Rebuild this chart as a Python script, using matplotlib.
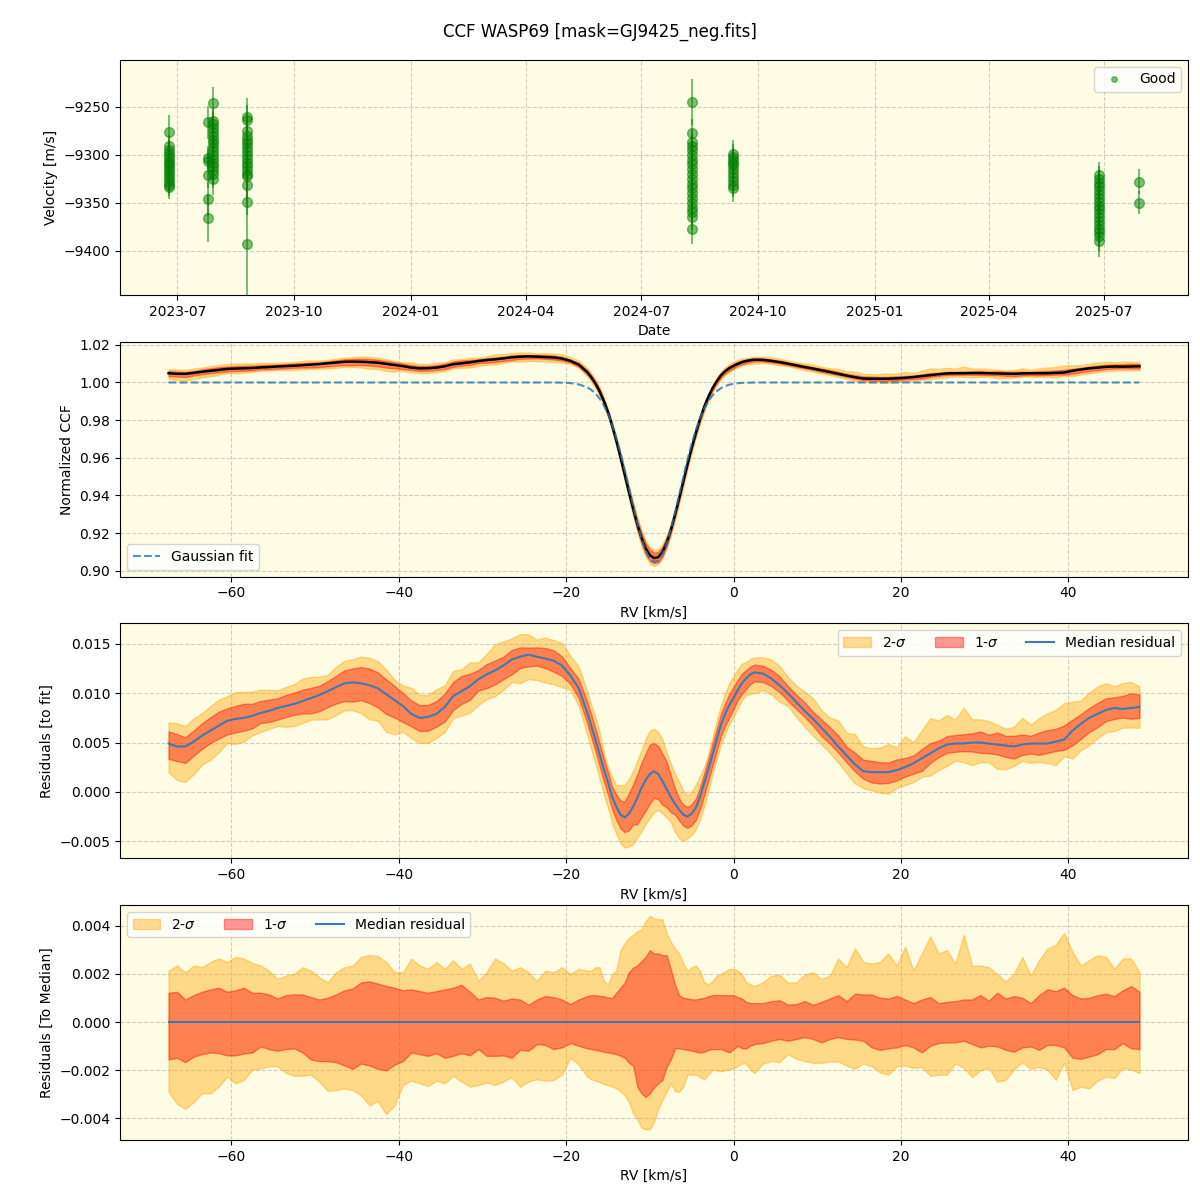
import numpy as np
import pandas as pd
import matplotlib
matplotlib.use("Agg")
import matplotlib.pyplot as plt
import matplotlib.dates as mdates
import matplotlib.patches as mpatches
from matplotlib.lines import Line2D

# --- RV time series (one list per epoch) ---
epoch_dates = ["2023-06-24", "2023-07-25", "2023-07-29", "2023-08-25",
               "2024-08-10", "2024-09-11", "2025-06-27", "2025-07-29"]
epoch_vel = [
    [-9276, -9291, -9295, -9298, -9301, -9304, -9307, -9310, -9313, -9316,
     -9319, -9322, -9325, -9328, -9331, -9334],
    [-9266, -9303, -9306, -9321, -9346, -9366],
    [-9246, -9265, -9268, -9272, -9276, -9280, -9284, -9288, -9292, -9296,
     -9300, -9304, -9308, -9312, -9316, -9320, -9325],
    [-9260, -9264, -9275, -9280, -9284, -9288, -9292, -9296, -9300, -9304,
     -9308, -9312, -9316, -9320, -9322, -9331, -9349, -9393],
    [-9245, -9277, -9287, -9291, -9295, -9300, -9305, -9310, -9315, -9320,
     -9325, -9330, -9335, -9340, -9345, -9350, -9355, -9360, -9365, -9377],
    [-9299, -9302, -9305, -9308, -9311, -9315, -9319, -9323, -9327, -9331, -9335],
    [-9321, -9325, -9329, -9333, -9337, -9341, -9345, -9349, -9353, -9357,
     -9361, -9365, -9369, -9373, -9377, -9381, -9385, -9390],
    [-9328, -9350],
]
epoch_err = [
    [18, 12, 11, 11, 10, 10, 10, 10, 10, 10, 10, 11, 11, 12, 12, 12],
    [17, 12, 12, 14, 18, 25],
    [17, 13, 13, 13, 12, 12, 12, 12, 12, 12, 12, 12, 13, 13, 14, 15, 17],
    [19, 16, 15, 14, 13, 13, 13, 13, 13, 13, 13, 13, 13, 13, 14, 15, 14, 60],
    [24, 14, 13, 12, 12, 12, 12, 12, 12, 12, 12, 12, 12, 12, 12, 12, 12, 12, 13, 16],
    [15, 13, 12, 12, 12, 12, 12, 12, 12, 13, 14],
    [14, 13, 13, 12, 12, 12, 12, 12, 12, 12, 12, 12, 12, 13, 13, 14, 15, 17],
    [13, 12],
]

# --- CCF profile: RV grid (km/s), finer through the line core ---
rv = np.concatenate([np.arange(-67.5, -18.0, 1.0),
                     np.arange(-17.5, 2.75, 0.5),
                     np.arange(3.5, 49.0, 1.0)])

gauss_fit = [1.0] * 47 + [0.9999, 0.9997, 0.9990] + [
    # -17.5 .. 2.5 (step 0.5)
    0.9975, 0.9961, 0.9942, 0.9915, 0.9879, 0.9833, 0.9775, 0.9705, 0.9625, 0.9535,
    0.9440, 0.9344, 0.9252, 0.9172, 0.9107, 0.9064, 0.9046, 0.9053, 0.9087, 0.9144,
    0.9219, 0.9307, 0.9401, 0.9498, 0.9590, 0.9674, 0.9748, 0.9811, 0.9862, 0.9902,
    0.9932, 0.9954, 0.9970, 0.9981, 0.9988, 0.9993, 0.9996, 0.9998, 0.9999, 0.9999,
    1.0] + [1.0] * 46

# median residual to the fit (x 1e-3)
med_res = [
    4.9, 4.6, 4.6, 5.1, 5.7, 6.2, 6.7, 7.2, 7.4, 7.5,
    7.7, 8.0, 8.2, 8.5, 8.7, 8.9, 9.2, 9.5, 9.8, 10.2,
    10.6, 11.0, 11.1, 11.0, 10.8, 10.5, 9.9, 9.3, 8.7, 7.9,
    7.5, 7.6, 7.9, 8.6, 9.7, 10.2, 10.7, 11.4, 11.9, 12.3,
    12.8, 13.4, 13.7, 13.9, 13.7, 13.5, 13.3, 12.8, 11.8, 10.5,
    # -17.5 .. 2.5
    8.1, 6.7, 5.3, 3.8, 2.3, 1.0, -0.5, -1.5, -2.3, -2.6,
    -2.2, -1.5, -0.6, 0.4, 1.2, 1.8, 2.1, 1.8, 1.1, 0.3,
    -0.5, -1.2, -1.8, -2.3, -2.5, -2.2, -1.6, -0.5, 0.9, 2.3,
    3.8, 5.3, 6.8, 7.9, 8.8, 9.5, 10.3, 11.0, 11.5, 11.9,
    12.1,
    # 3.5 .. 48.5
    12.0, 11.5, 10.8, 10.0, 9.1, 8.2, 7.4, 6.5, 5.6,
    4.6, 3.7, 2.8, 2.1, 2.0, 2.0, 2.0, 2.2, 2.5, 2.9,
    3.4, 3.9, 4.4, 4.8, 4.9, 4.9, 5.0, 5.0, 4.9, 4.8,
    4.7, 4.6, 4.8, 4.9, 4.9, 4.9, 5.1, 5.3, 6.2, 6.9,
    7.5, 7.9, 8.3, 8.5, 8.4, 8.5, 8.6]

# band edges relative to the median (x 1e-3)
up2 = [
    2.14, 2.35, 2.07, 2.35, 2.28, 2.50, 2.64, 2.50, 2.71, 2.64,
    2.45, 2.35, 2.14, 1.79, 1.93, 2.00, 2.28, 2.14, 1.86, 1.65,
    2.07, 2.28, 2.35, 2.71, 2.78, 2.74, 2.50, 2.07, 2.07, 2.64,
    2.35, 2.21, 2.50, 2.21, 2.57, 2.21, 2.43, 1.72, 2.07, 2.64,
    2.45, 2.14, 2.28, 2.07, 1.72, 2.14, 2.07, 2.28, 2.00, 2.21,
    2.14, 2.14, 2.28, 2.28, 1.72, 1.57, 2.00, 2.14, 2.99, 3.28,
    3.49, 3.63, 3.77, 3.84, 4.20, 4.41, 4.30, 4.27, 4.27, 3.70,
    3.35, 3.06, 2.85, 2.43, 2.14, 2.28, 2.35, 2.14, 1.65, 1.57,
    1.72, 1.93, 2.00, 2.11, 2.21, 2.21, 2.14, 2.00, 1.65, 1.57,
    1.50,
    1.65, 1.93, 1.97, 1.65, 1.65, 1.97, 2.07, 1.79, 1.93,
    2.64, 2.28, 3.06, 2.50, 2.43, 2.50, 2.85, 2.35, 3.13, 2.14,
    2.85, 3.56, 2.85, 2.99, 2.43, 3.63, 2.35, 2.35, 2.28, 2.00,
    1.69, 2.00, 2.71, 1.93, 2.57, 3.06, 3.21, 3.70, 2.92, 2.35,
    2.57, 2.78, 2.71, 2.21, 2.64, 2.64, 2.07]
up1 = [
    1.22, 1.26, 0.94, 1.12, 1.26, 1.36, 1.43, 1.26, 1.32, 1.43,
    1.22, 1.22, 1.15, 0.98, 1.12, 1.15, 1.15, 1.04, 0.94, 1.01,
    1.15, 1.32, 1.40, 1.65, 1.69, 1.60, 1.50, 1.43, 1.32, 1.36,
    1.29, 1.22, 1.29, 1.36, 1.43, 1.55, 1.26, 0.94, 1.04, 1.01,
    0.89, 0.98, 0.94, 0.72, 0.94, 1.08, 1.04, 0.94, 0.75, 0.94,
    1.08, 1.12, 1.12, 1.09, 1.08, 1.01, 1.01, 1.22, 1.43, 1.65,
    2.07, 2.26, 2.35, 2.54, 2.71, 2.99, 2.85, 2.85, 2.78, 2.78,
    2.21, 1.57, 1.12, 1.01, 0.98, 0.95, 0.94, 0.98, 1.01, 1.08,
    1.12, 1.13, 1.12, 1.12, 1.12, 1.12, 1.04, 0.98, 0.84, 0.79,
    0.79,
    0.79, 0.87, 0.91, 0.72, 0.75, 0.87, 0.72, 0.84, 0.98,
    1.12, 0.87, 1.18, 1.15, 1.15, 1.01, 0.98, 1.09, 0.94, 0.79,
    0.94, 1.04, 0.79, 0.84, 0.87, 0.94, 0.94, 1.12, 0.89, 1.22,
    0.98, 1.08, 1.01, 0.79, 1.12, 1.36, 1.29, 1.43, 1.12, 0.98,
    1.01, 1.12, 1.18, 1.08, 1.32, 1.50, 1.26]
lo1 = [
    -1.55, -1.48, -1.66, -1.43, -1.33, -1.26, -1.29, -1.38, -1.38, -1.30,
    -1.26, -1.01, -1.12, -1.19, -1.12, -1.09, -1.26, -1.55, -1.62, -1.62,
    -1.66, -1.80, -1.94, -1.72, -1.80, -1.94, -2.00, -1.77, -1.62, -1.26,
    -1.33, -1.40, -1.29, -1.48, -1.40, -1.29, -1.38, -1.12, -1.40, -1.40,
    -1.38, -1.48, -1.15, -1.19, -0.91, -0.95, -1.12, -1.05, -0.87, -0.98,
    -1.09, -1.12, -1.15, -1.19, -1.23, -1.26, -1.29, -1.33, -1.40, -1.48,
    -1.69, -1.80, -2.68, -2.96, -3.11, -2.96, -2.70, -2.54, -2.40, -1.86,
    -1.55, -1.09, -1.09, -1.12, -1.15, -1.18, -1.23, -1.26, -1.23, -1.15,
    -1.12, -1.12, -1.12, -1.19, -1.26, -1.12, -0.98, -1.09, -1.09, -0.98,
    -0.91,
    -0.87, -0.77, -0.70, -0.77, -0.70, -0.62, -0.70, -0.84, -0.70,
    -0.62, -0.70, -0.72, -0.77, -1.05, -1.15, -1.09, -1.05, -0.95, -1.05,
    -1.26, -0.98, -0.87, -0.84, -0.84, -0.77, -0.91, -1.05, -0.98, -1.01,
    -1.15, -1.23, -1.05, -1.01, -1.15, -0.95, -0.95, -1.05, -1.48, -1.52,
    -1.43, -1.33, -1.12, -1.12, -0.87, -1.09, -1.12]
lo2 = [
    -2.89, -3.39, -3.60, -3.32, -2.96, -2.96, -2.68, -2.26, -2.54, -2.40,
    -1.97, -1.93, -1.83, -1.83, -2.11, -2.23, -2.23, -2.18, -2.47, -2.85,
    -2.82, -2.75, -2.82, -3.04, -3.46, -3.28, -3.82, -3.46, -2.61, -2.43,
    -2.54, -2.65, -2.43, -2.54, -2.23, -2.47, -2.68, -2.61, -2.51, -2.61,
    -2.47, -2.28, -2.68, -2.47, -2.37, -2.43, -2.40, -2.18, -1.48, -1.76,
    -2.26, -2.37, -2.43, -2.48, -2.57, -2.62, -2.68, -2.75, -2.89, -3.04,
    -3.32, -3.79, -4.03, -4.38, -4.45, -4.45, -4.15, -3.60, -3.25, -2.89,
    -2.54, -2.87, -2.89, -2.68, -2.18, -2.18, -2.18, -2.28, -2.37, -2.18,
    -1.97, -2.00, -2.04, -2.00, -1.97, -1.90, -1.83, -1.72, -1.72, -1.97,
    -2.11,
    -1.72, -1.62, -1.66, -1.33, -1.52, -1.62, -1.69, -1.69, -1.63,
    -1.63, -1.80, -1.94, -1.72, -1.83, -2.09, -2.18, -1.83, -1.80, -1.90,
    -1.86, -2.23, -2.18, -2.18, -1.72, -1.90, -2.28, -2.00, -1.90, -2.47,
    -2.40, -1.97, -1.66, -1.94, -1.86, -1.97, -2.40, -1.69, -2.82, -2.68,
    -2.75, -2.43, -2.26, -2.33, -1.90, -1.97, -2.11]

BG = "#fefce4"
C2, C1, CMED = "orange", "red", "#3a7ab5"

fit = np.array(gauss_fit)
med = np.array(med_res) * 1e-3
u2, u1 = np.array(up2) * 1e-3, np.array(up1) * 1e-3
l1, l2 = np.array(lo1) * 1e-3, np.array(lo2) * 1e-3
ccf = fit + med

fig, axes = plt.subplots(4, 1, figsize=(12, 12), dpi=100)
fig.subplots_adjust(left=0.1, right=0.99, top=0.95, bottom=0.05, hspace=0.2)
fig.suptitle("CCF WASP69 [mask=GJ9425_neg.fits]", fontsize=12, y=0.981)

for ax in axes:
    ax.set_facecolor(BG)
    ax.grid(True, linestyle="--", alpha=0.6)
    ax.set_axisbelow(True)

# --- panel 1: RV time series ---
ax = axes[0]
for d, v, e in zip(epoch_dates, epoch_vel, epoch_err):
    t = pd.to_datetime([d] * len(v))
    ax.errorbar(t, v, yerr=e, fmt="o", color="green", ms=7, alpha=0.5,
                elinewidth=1.5, capsize=0)
ax.set_ylim(-9446, -9201)
ax.xaxis.set_major_locator(mdates.MonthLocator(bymonth=[1, 4, 7, 10]))
ax.xaxis.set_major_formatter(mdates.DateFormatter("%Y-%m"))
ax.set_xlabel("Date")
ax.set_ylabel("Velocity [m/s]")
ax.legend(handles=[Line2D([], [], marker="o", ls="none", color="green", ms=4,
                          alpha=0.5, label="Good")], loc="upper right")

# --- panel 2: CCF with Gaussian fit ---
ax = axes[1]
ax.fill_between(rv, ccf + l2, ccf + u2, color=C2, alpha=0.4)
ax.fill_between(rv, ccf + l1, ccf + u1, color=C1, alpha=0.4)
ax.plot(rv, ccf, color="black", lw=1.8)
ax.plot(rv, fit, ls="--", color="tab:blue", alpha=0.8, lw=1.5, label="Gaussian fit")
ax.set_xlabel("RV [km/s]")
ax.set_ylabel("Normalized CCF")
ax.legend(loc="lower left")

band_handles = [
    mpatches.Patch(facecolor=C2, edgecolor=C2, alpha=0.4, label=r"2-$\sigma$"),
    mpatches.Patch(facecolor=C1, edgecolor=C1, alpha=0.4, label=r"1-$\sigma$"),
    Line2D([], [], color=CMED, lw=1.5, label="Median residual"),
]

# --- panel 3: residuals to fit ---
ax = axes[2]
ax.fill_between(rv, med + l2, med + u2, color=C2, alpha=0.4)
ax.fill_between(rv, med + l1, med + u1, color=C1, alpha=0.4)
ax.plot(rv, med, color=CMED, lw=1.5)
ax.set_xlabel("RV [km/s]")
ax.set_ylabel("Residuals [to fit]")
ax.legend(handles=band_handles, loc="upper right", ncol=3)

# --- panel 4: residuals to median ---
ax = axes[3]
ax.fill_between(rv, l2, u2, color=C2, alpha=0.4)
ax.fill_between(rv, l1, u1, color=C1, alpha=0.4)
ax.plot(rv, np.zeros_like(rv), color=CMED, lw=1.5)
ax.set_xlabel("RV [km/s]")
ax.set_ylabel("Residuals [To Median]")
ax.legend(handles=band_handles, loc="upper left", ncol=3)

fig.savefig("out.png", dpi=100, facecolor="white")
